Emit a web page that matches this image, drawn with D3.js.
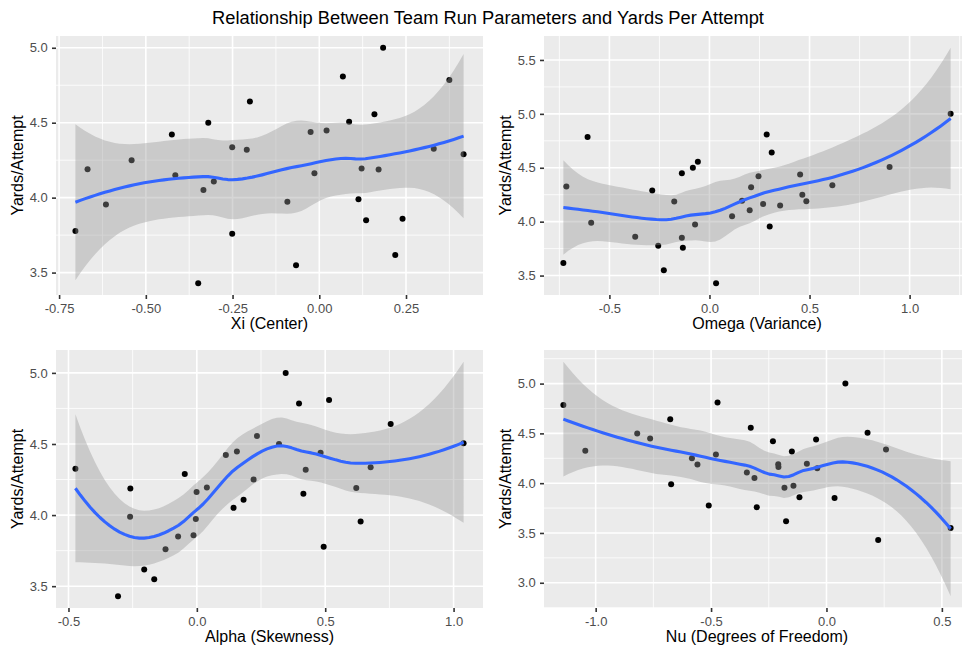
<!DOCTYPE html>
<html>
<head>
<meta charset="utf-8">
<script src="https://cdn.jsdelivr.net/npm/d3@7"></script>
<style>
  body { margin: 0; background: #ffffff; }
  svg { display: block; font-family: "Liberation Sans", Arial, Helvetica, sans-serif; }
</style>
</head>
<body>
<svg id="chart" width="962" height="648"></svg>
<script>
// Team-level data: yards per rushing attempt and fitted run-distribution parameters
const yardsPerAttempt = [3.777, 4.190, 3.955, 4.250, 4.422, 4.150, 3.429, 4.051, 4.500, 4.107,
                         4.337, 3.759, 4.319, 4.641, 3.973, 3.549, 4.438, 4.163, 4.448, 4.809,
                         4.506, 3.989, 4.194, 3.850, 4.556, 4.187, 5.000, 3.617, 3.859, 4.326,
                         4.785, 4.289];
const xiCenter = [-0.703, -0.668, -0.615, -0.541, -0.425, -0.415, -0.349, -0.334, -0.320, -0.304,
                  -0.251, -0.251, -0.209, -0.200, -0.092, -0.067, -0.025, -0.014, 0.021, 0.068,
                  0.086, 0.113, 0.122, 0.135, 0.159, 0.171, 0.184, 0.219, 0.240, 0.330,
                  0.375, 0.416];
const omegaVariance = [-0.256, 0.484, 0.301, 0.464, 0.245, 0.353, 0.033, 0.113, -0.083, 0.201,
                       0.614, -0.133, 0.208, 0.311, -0.072, -0.228, 0.453, 0.268, -0.138, 0.286,
                       0.900, -0.591, 0.163, -0.138, -0.058, -0.176, 1.205, -0.730, -0.371, -0.715,
                       -0.609, -0.286];
const alphaSkewness = [0.494, 0.621, 0.638, 0.221, 0.113, 0.415, -0.307, 0.143, 0.320, 0.182,
                       0.677, -0.122, 0.424, 0.755, -0.004, -0.166, 0.482, -0.001, 0.156, 0.515,
                       1.039, -0.260, 0.039, -0.073, 0.234, -0.259, 0.346, -0.205, -0.013, -0.473,
                       0.398, -0.047];
const nuDegreesOfFreedom = [-0.510, -0.209, -0.182, -0.583, -0.232, -0.040, 0.224, -0.312, -0.820, -0.345,
                            0.258, -0.302, -0.150, -0.677, -0.143, 0.538, -0.045, -0.208, -0.764, -0.472,
                            0.178, -0.673, -0.085, 0.035, -0.328, -0.559, 0.082, -0.175, -0.117, -1.045,
                            -1.140, -0.479];

// Axis breaks
const xiTicks = [-0.75, -0.50, -0.25, 0.00, 0.25];
const omegaTicks = [-0.5, 0.0, 0.5, 1.0];
const alphaTicks = [-0.5, 0.0, 0.5, 1.0];
const nuTicks = [-1.0, -0.5, 0.0, 0.5];
const xiYTicks = [3.5, 4.0, 4.5, 5.0];
const omegaYTicks = [3.5, 4.0, 4.5, 5.0, 5.5];
const alphaYTicks = [3.5, 4.0, 4.5, 5.0];
const nuYTicks = [3.0, 3.5, 4.0, 4.5, 5.0];

const chartTitle = "Relationship Between Team Run Parameters and Yards Per Attempt";
const yTitle = "Yards/Attempt";

// ---------- local quadratic regression (loess, span 0.75, kd-tree + Hermite interpolation) ----------
function invert3(m) {
  const [a, b, c] = m[0], [d, e, f] = m[1], [g, h, k] = m[2];
  const A = e * k - f * h, B = -(d * k - f * g), C = d * h - e * g;
  const det = a * A + b * B + c * C;
  return [
    [A / det, -(b * k - c * h) / det, (b * f - c * e) / det],
    [B / det, (a * k - c * g) / det, -(a * f - c * d) / det],
    [C / det, -(a * h - b * g) / det, (a * e - b * d) / det]
  ];
}

// operator rows giving the local fit value and slope at x0
function localRows(xs, x0, q) {
  const n = xs.length;
  const dist = xs.map(v => Math.abs(v - x0));
  const h = dist.slice().sort((a, b) => a - b)[q - 1];
  const w = dist.map(v => v < h ? Math.pow(1 - Math.pow(v / h, 3), 3) : 0);
  const S = [[0, 0, 0], [0, 0, 0], [0, 0, 0]];
  for (let i = 0; i < n; i++) {
    const u = xs[i] - x0, b = [1, u, u * u];
    for (let j = 0; j < 3; j++) for (let k = 0; k < 3; k++) S[j][k] += w[i] * b[j] * b[k];
  }
  const inv = invert3(S);
  const value = new Float64Array(n), slope = new Float64Array(n);
  for (let i = 0; i < n; i++) {
    const u = xs[i] - x0;
    value[i] = w[i] * (inv[0][0] + inv[0][1] * u + inv[0][2] * u * u);
    slope[i] = w[i] * (inv[1][0] + inv[1][1] * u + inv[1][2] * u * u);
  }
  return { value, slope };
}

function kdVertices(xs, span, cell) {
  const n = xs.length;
  const s = xs.slice().sort((a, b) => a - b);
  const fc = Math.floor(n * span * cell);
  const lo = s[0], hi = s[n - 1];
  const mu = 0.005 * Math.max(hi - lo, 1e-10 * Math.max(Math.abs(lo), Math.abs(hi)) + 1e-30);
  const verts = [lo - mu, hi + mu];
  (function split(l, u, vl, vu) {
    if (u - l + 1 <= fc) return;
    let m = Math.floor((l + u) / 2);
    let offset = 0;
    while (!((m + offset) >= u || (m + offset) < l)) {
      if (s[m + offset - 1] === s[m + offset]) {
        offset = -offset;
        if (offset >= 0) offset += 1;
      } else { m = m + offset; break; }
    }
    const xm = s[m - 1];
    if (xm === vl || xm === vu) return;
    verts.push(xm);
    split(l, m, vl, xm);
    split(m + 1, u, xm, vu);
  })(1, n, lo - mu, hi + mu);
  return Array.from(new Set(verts)).sort((a, b) => a - b);
}

function tQuantile975(df) {
  const z = 1.959963985;
  const z3 = z ** 3, z5 = z ** 5, z7 = z ** 7, z9 = z ** 9;
  const g1 = (z3 + z) / 4;
  const g2 = (5 * z5 + 16 * z3 + 3 * z) / 96;
  const g3 = (3 * z7 + 19 * z5 + 17 * z3 - 15 * z) / 384;
  const g4 = (79 * z9 + 776 * z7 + 1482 * z5 - 1920 * z3 - 945 * z) / 92160;
  return z + g1 / df + g2 / df ** 2 + g3 / df ** 3 + g4 / df ** 4;
}

function loessSmooth(xs, ys, span = 0.75, cell = 0.2, nOut = 80) {
  const n = xs.length;
  const q = Math.min(n, Math.floor(n * span + 1e-5));
  const verts = kdVertices(xs, span, cell);
  const vrows = verts.map(v => localRows(xs, v, q));

  function rowAt(x) {
    let i = d3.bisectRight(verts, x) - 1;
    i = Math.max(0, Math.min(verts.length - 2, i));
    const a = verts[i], b = verts[i + 1], dl = b - a, t = (x - a) / dl;
    const phi0 = (1 - t) * (1 - t) * (1 + 2 * t), phi1 = t * t * (3 - 2 * t);
    const psi0 = t * (1 - t) * (1 - t), psi1 = -t * t * (1 - t);
    const A = vrows[i], B = vrows[i + 1];
    const row = new Float64Array(n);
    for (let j = 0; j < n; j++) {
      row[j] = phi0 * A.value[j] + phi1 * B.value[j] + dl * (psi0 * A.slope[j] + psi1 * B.slope[j]);
    }
    return row;
  }

  // operator at the observations, residual scale and degrees of freedom
  const L = xs.map(rowAt);
  const IL = L.map((row, i) => row.map((v, j) => (i === j ? 1 : 0) - v));
  let rss = 0;
  for (let i = 0; i < n; i++) {
    let r = 0;
    for (let j = 0; j < n; j++) r += IL[i][j] * ys[j];
    rss += r * r;
  }
  let one = 0;
  for (let i = 0; i < n; i++) for (let j = 0; j < n; j++) one += IL[i][j] * IL[i][j];
  let two = 0;
  for (let i = 0; i < n; i++) for (let j = 0; j < n; j++) {
    let b = 0;
    for (let k = 0; k < n; k++) b += IL[k][i] * IL[k][j];
    two += b * b;
  }
  const sigma = Math.sqrt(rss / one);
  const tval = tQuantile975(one * one / two);

  const [x0, x1] = d3.extent(xs);
  const out = [];
  for (let k = 0; k < nOut; k++) {
    const x = x0 + (x1 - x0) * k / (nOut - 1);
    const row = rowAt(x);
    let fit = 0, ss = 0;
    for (let j = 0; j < n; j++) { fit += row[j] * ys[j]; ss += row[j] * row[j]; }
    const se = sigma * Math.sqrt(ss);
    out.push({ x, fit, lo: fit - tval * se, hi: fit + tval * se });
  }
  return out;
}

// ---------- drawing ----------
const svg = d3.select("#chart");

svg.append("text")
  .attr("x", 488).attr("y", 23.5)
  .attr("text-anchor", "middle")
  .attr("font-size", 18.3)
  .attr("fill", "#000000")
  .text(chartTitle);

const panels = [
  { xs: xiCenter, xTicks: xiTicks, yTicks: xiYTicks, xDigits: 2, xTitle: "Xi (Center)",
    box: { l: 56, r: 483, t: 36, b: 295 } },
  { xs: omegaVariance, xTicks: omegaTicks, yTicks: omegaYTicks, xDigits: 1, xTitle: "Omega (Variance)",
    box: { l: 544, r: 970, t: 36, b: 295 } },
  { xs: alphaSkewness, xTicks: alphaTicks, yTicks: alphaYTicks, xDigits: 1, xTitle: "Alpha (Skewness)",
    box: { l: 56, r: 483, t: 350, b: 608 } },
  { xs: nuDegreesOfFreedom, xTicks: nuTicks, yTicks: nuYTicks, xDigits: 1, xTitle: "Nu (Degrees of Freedom)",
    box: { l: 544, r: 970, t: 350, b: 608 } }
];

function minorBreaks(major, domain) {
  const step = major[1] - major[0];
  const res = [];
  for (let v = major[0] - step / 2; v <= major[major.length - 1] + step / 2 + 1e-9; v += step) {
    if (v >= domain[0] && v <= domain[1]) res.push(v);
  }
  return res;
}

panels.forEach((p, idx) => {
  const { l, r, t, b } = p.box;
  const smooth = loessSmooth(p.xs, yardsPerAttempt);

  const xExt = d3.extent(p.xs);
  const xPad = (xExt[1] - xExt[0]) * 0.05;
  const xDomain = [xExt[0] - xPad, xExt[1] + xPad];
  const yMin = Math.min(d3.min(yardsPerAttempt), d3.min(smooth, d => d.lo));
  const yMax = Math.max(d3.max(yardsPerAttempt), d3.max(smooth, d => d.hi));
  const yPad = (yMax - yMin) * 0.05;
  const yDomain = [yMin - yPad, yMax + yPad];

  const x = d3.scaleLinear().domain(xDomain).range([l, r]);
  const y = d3.scaleLinear().domain(yDomain).range([b, t]);

  const clipId = "panel-clip-" + idx;
  svg.append("clipPath").attr("id", clipId)
    .append("rect").attr("x", l).attr("y", t).attr("width", r - l).attr("height", b - t);

  const g = svg.append("g");
  const plot = g.append("g").attr("clip-path", `url(#${clipId})`);

  plot.append("rect")
    .attr("x", l).attr("y", t).attr("width", r - l).attr("height", b - t)
    .attr("fill", "#EBEBEB");

  // minor grid
  plot.selectAll(".xminor").data(minorBreaks(p.xTicks, xDomain)).join("line")
    .attr("x1", d => x(d)).attr("x2", d => x(d)).attr("y1", t).attr("y2", b)
    .attr("stroke", "#ffffff").attr("stroke-width", 0.8);
  plot.selectAll(".yminor").data(minorBreaks(p.yTicks, yDomain)).join("line")
    .attr("y1", d => y(d)).attr("y2", d => y(d)).attr("x1", l).attr("x2", r)
    .attr("stroke", "#ffffff").attr("stroke-width", 0.8);
  // major grid
  plot.selectAll(".xmajor").data(p.xTicks).join("line")
    .attr("x1", d => x(d)).attr("x2", d => x(d)).attr("y1", t).attr("y2", b)
    .attr("stroke", "#ffffff").attr("stroke-width", 1.6);
  plot.selectAll(".ymajor").data(p.yTicks).join("line")
    .attr("y1", d => y(d)).attr("y2", d => y(d)).attr("x1", l).attr("x2", r)
    .attr("stroke", "#ffffff").attr("stroke-width", 1.6);

  // observations
  plot.selectAll("circle").data(p.xs.map((v, i) => [v, yardsPerAttempt[i]])).join("circle")
    .attr("cx", d => x(d[0])).attr("cy", d => y(d[1])).attr("r", 3)
    .attr("fill", "#000000");

  // confidence band and loess curve
  plot.append("path").datum(smooth)
    .attr("d", d3.area().x(d => x(d.x)).y0(d => y(d.lo)).y1(d => y(d.hi)))
    .attr("fill", "#999999").attr("fill-opacity", 0.4);
  plot.append("path").datum(smooth)
    .attr("d", d3.line().x(d => x(d.x)).y(d => y(d.fit)))
    .attr("fill", "none").attr("stroke", "#3366FF").attr("stroke-width", 3.1)
    .attr("stroke-linejoin", "round");

  // axes
  const xAxis = g.append("g").attr("transform", `translate(0,${b})`)
    .call(d3.axisBottom(x).tickValues(p.xTicks).tickSize(4).tickPadding(5)
      .tickFormat(v => v.toFixed(p.xDigits)));
  const yAxis = g.append("g").attr("transform", `translate(${l},0)`)
    .call(d3.axisLeft(y).tickValues(p.yTicks).tickSize(4).tickPadding(4.3)
      .tickFormat(v => v.toFixed(1)));
  [xAxis, yAxis].forEach(ax => {
    ax.select(".domain").remove();
    ax.selectAll(".tick line").attr("stroke", "#333333").attr("stroke-width", 1.6);
    ax.selectAll(".tick text").attr("fill", "#4D4D4D").attr("font-size", 13)
      .attr("font-family", "Liberation Sans, Arial, Helvetica, sans-serif");
  });

  g.append("text")
    .attr("x", (l + r) / 2).attr("y", b + 34)
    .attr("text-anchor", "middle").attr("font-size", 16).attr("fill", "#000000")
    .text(p.xTitle);
  g.append("text")
    .attr("transform", `translate(${l - 33},${(t + b) / 2}) rotate(-90)`)
    .attr("text-anchor", "middle").attr("font-size", 16).attr("fill", "#000000")
    .text(yTitle);
});
</script>
</body>
</html>
